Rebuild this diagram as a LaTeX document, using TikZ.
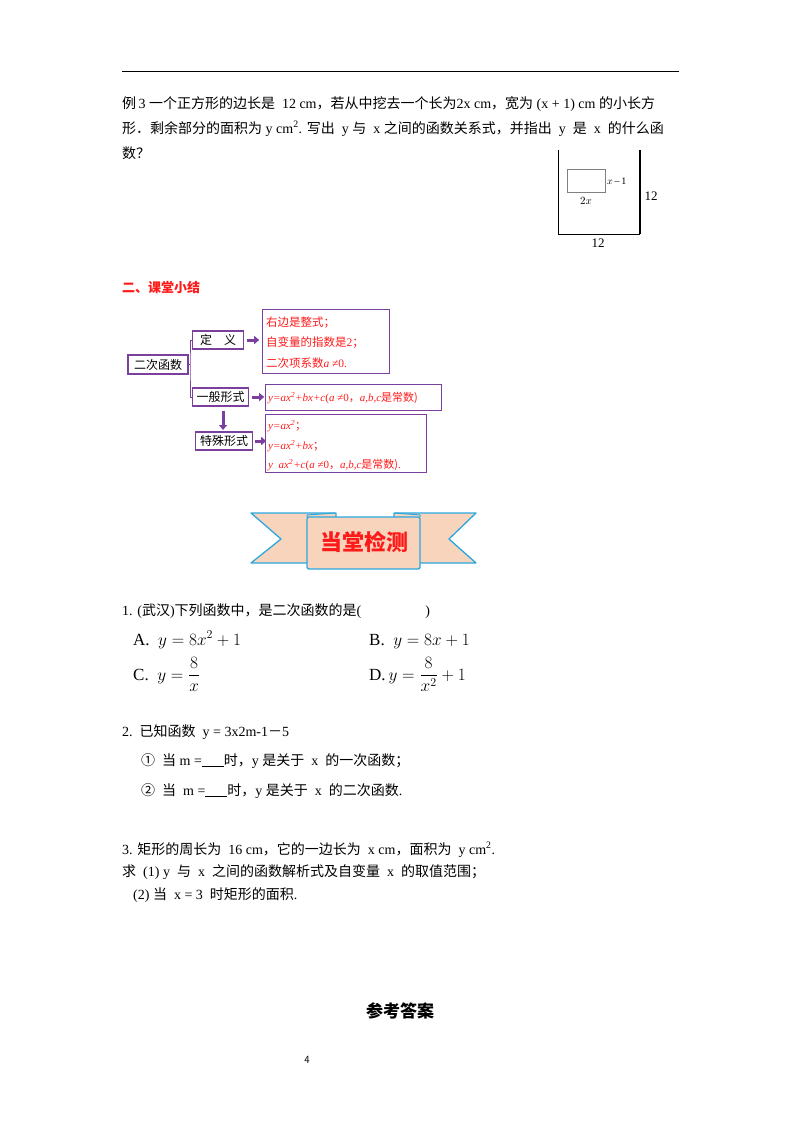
\documentclass[tikz,border=0pt]{standalone}
\usepackage{amsmath}
\usepackage{fontspec}
\setmainfont{Liberation Serif}
\newfontfamily\cjk{Noto Sans CJK SC}
\newcommand{\zh}[1]{{\cjk #1}}
\usetikzlibrary{arrows.meta}
\definecolor{pur}{HTML}{7B3F9E}
\definecolor{rd}{HTML}{FF1A1A}
\definecolor{peach}{HTML}{F8D4BC}
\definecolor{sky}{HTML}{2AA7DF}
\tikzset{
 txt/.style={anchor=base west,inner sep=0pt,font=\fontsize{14}{16}\selectfont},
 pbox/.style={draw=pur,line width=1.2pt,inner sep=2pt},
 rbox/.style={draw=pur,line width=1pt},
 rtxt/.style={anchor=base west,inner sep=0pt,text=rd,font=\fontsize{11}{12}\selectfont},
 parr/.style={-{Triangle[length=5pt,width=8pt]},draw=pur,line width=3pt},
}
\begin{document}
\begin{tikzpicture}[x=1pt,y=-1pt]
\useasboundingbox (0,0) rectangle (800,1132);
\draw[line width=1pt] (122,72) -- (679,72);
% example 3
\node[txt] (l1) at (122,108) {\zh{例}\,3\ \zh{一个正方形的边长是}\ \ 12 cm\zh{，若从中挖去一个长为}2x cm\zh{，宽为}\ (x + 1) cm \zh{的小长方}};
\node[txt] (l2) at (122,133) {\zh{形．剩余部分的面积为}\ y cm\textsuperscript{2}. \zh{写出}\ \ y \zh{与}\ \ x \zh{之间的函数关系式，并指出}\ \ y \ \zh{是}\ \ x \ \zh{的什么函}};
\node[txt] (l3) at (122,158) {\zh{数？}};
% figure
\draw[line width=0.8pt] (558,150) -- (558,234) -- (640,234);
\draw[line width=1.4pt] (640,150) -- (640,234);
\draw[line width=0.6pt,draw=gray] (567,169) rectangle (605,192);
\node[anchor=west,inner sep=0pt,font=\fontsize{10}{12}\selectfont] (fa) at (607,181) {$x$\,--\,1};
\node[inner sep=0pt,font=\fontsize{11}{12}\selectfont] (fb) at (586,201) {$2x$};
\node[inner sep=0pt,font=\fontsize{13}{14}\selectfont] (fc) at (651,196) {12};
\node[inner sep=0pt,font=\fontsize{13}{14}\selectfont] (fd) at (598,243) {12};
% summary heading
\node[txt,text=rd,font=\cjk\bfseries\fontsize{13}{14}\selectfont] (h2) at (122,292) {二、课堂小结};
% summary diagram
\node[pbox,minimum width=60pt,minimum height=19pt,font=\cjk\fontsize{12}{12}\selectfont] (a) at (158,364.5) {二次函数};
\node[pbox,minimum width=51pt,minimum height=18pt,anchor=west,font=\cjk\fontsize{12}{12}\selectfont] (b) at (192,340) {定\quad 义};
\node[pbox,minimum width=56pt,minimum height=18pt,anchor=west,font=\cjk\fontsize{12}{12}\selectfont] (c) at (192,397) {一般形式};
\node[pbox,minimum width=57pt,minimum height=18pt,anchor=west,font=\cjk\fontsize{12}{12}\selectfont] (d) at (195,441) {特殊形式};
\coordinate (br) at (190,364.5);
\draw[pur,line width=0.8pt] (a.east) -- (br);
\draw[pur,line width=0.8pt] (b.west) -| (br) |- (c.west);
\draw[parr] (223,411) -- (223,430);
\draw[rbox] (262,309) rectangle (389,373);
\node[rtxt,font=\cjk\fontsize{11.5}{12}\selectfont] (r1) at (266,326) {右边是整式；};
\node[rtxt,font=\cjk\fontsize{11.5}{12}\selectfont] (r2) at (266,346) {自变量的指数是{\rmfamily 2}；};
\node[rtxt,font=\cjk\fontsize{11.5}{12}\selectfont] (r3) at (266,367) {二次项系数{\rmfamily\itshape a} {\rmfamily ≠0.}};
\draw[rbox] (265,384) rectangle (441,410);
\node[rtxt] (r4) at (268,401) {\itshape y=ax\textsuperscript{2}+bx+c\upshape(\itshape a \upshape≠0\zh{，}\itshape a,b,c\upshape\zh{是常数)}};
\draw[rbox] (265,414) rectangle (426,472);
\node[rtxt] (r5) at (268,429) {\itshape y=ax\textsuperscript{2}\upshape\zh{；}};
\node[rtxt] (r6) at (268,449) {\itshape y=ax\textsuperscript{2}+bx\upshape\zh{；}};
\node[rtxt] (r7) at (268,468) {\itshape y\ \ ax\textsuperscript{2}+c\upshape(\itshape a \upshape≠0\zh{，}\itshape a,b,c\upshape\zh{是常数)}.};
\draw[parr] (b.east) ++(3,0) -- ++(12,0);
\draw[parr] (c.east) ++(3,0) -- ++(12,0);
\draw[parr] (d.east) ++(2,0) -- ++(11,0);
% banner
\draw[sky,fill=peach,line width=1.3pt,line join=round] (251,513) -- (336,513) -- (336,563) -- (251,563) -- (281,539) -- cycle;
\draw[sky,fill=peach,line width=1.3pt,line join=round] (476,513) -- (394,513) -- (394,563) -- (476,563) -- (449,539) -- cycle;
\draw[sky,fill=peach,line width=1.3pt,rounded corners=2pt] (307,517) rectangle (420,569);
\draw[sky,line width=1pt] (307,517) -- (307,515) -- (335,513);
\draw[sky,line width=1pt] (420,517) -- (420,515) -- (395,513);
\node[text=rd,font=\cjk\bfseries\fontsize{22}{24}\selectfont] (ban) at (364,542) {当堂检测};
% Q1
\node[txt] (q1) at (122,615) {1. (\zh{武汉})\zh{下列函数中，是二次函数的是}(\hspace{64pt})};
\node[txt,font=\fontsize{17}{19}\selectfont] (qa) at (133,645) {A.\ \ $y = 8x^2 + 1$};
\node[txt,font=\fontsize{17}{19}\selectfont] (qb) at (369,645) {B.\ \ $y = 8x + 1$};
\node[txt,font=\fontsize{17}{19}\selectfont] (qc) at (133,680) {C.\ \ $y = \dfrac{8}{x}$};
\node[txt,font=\fontsize{17}{19}\selectfont] (qd) at (369,680) {D.\,$y = \dfrac{8}{x^2} + 1$};
% Q2
\node[txt] (q2) at (122,736) {2.\ \ \zh{已知函数}\ \ y = 3x2m-1\zh{－}5};
\node[txt] (q21) at (141,765) {\zh{①}\ \ \zh{当}\ m =\rule[-1pt]{22pt}{0.5pt}\zh{时，}y \zh{是关于}\ \ x \ \zh{的一次函数；}};
\node[txt] (q22) at (141,795) {\zh{②}\ \ \zh{当}\ \ m =\rule[-1pt]{22pt}{0.5pt}\zh{时，}y \zh{是关于}\ \ x \ \zh{的二次函数}.};
% Q3
\node[txt] (q3) at (122,854) {3. \zh{矩形的周长为}\ \ 16 cm\zh{，它的一边长为}\ \ x cm\zh{，面积为}\ \ y cm\textsuperscript{2}.};
\node[txt] (q31) at (122,876) {\zh{求}\ \ (1) y \ \zh{与}\ \ x \ \zh{之间的函数解析式及自变量}\ \ x \ \zh{的取值范围；}};
\node[txt] (q32) at (133,899) {(2) \zh{当}\ \ x = 3 \ \zh{时矩形的面积}.};
% answers
\node[font=\cjk\bfseries\fontsize{17}{18}\selectfont] (ans) at (400,1011) {参考答案};
\node[font=\sffamily\fontsize{11}{12}\selectfont] (pg) at (307,1060) {4};
\end{tikzpicture}
\end{document}
